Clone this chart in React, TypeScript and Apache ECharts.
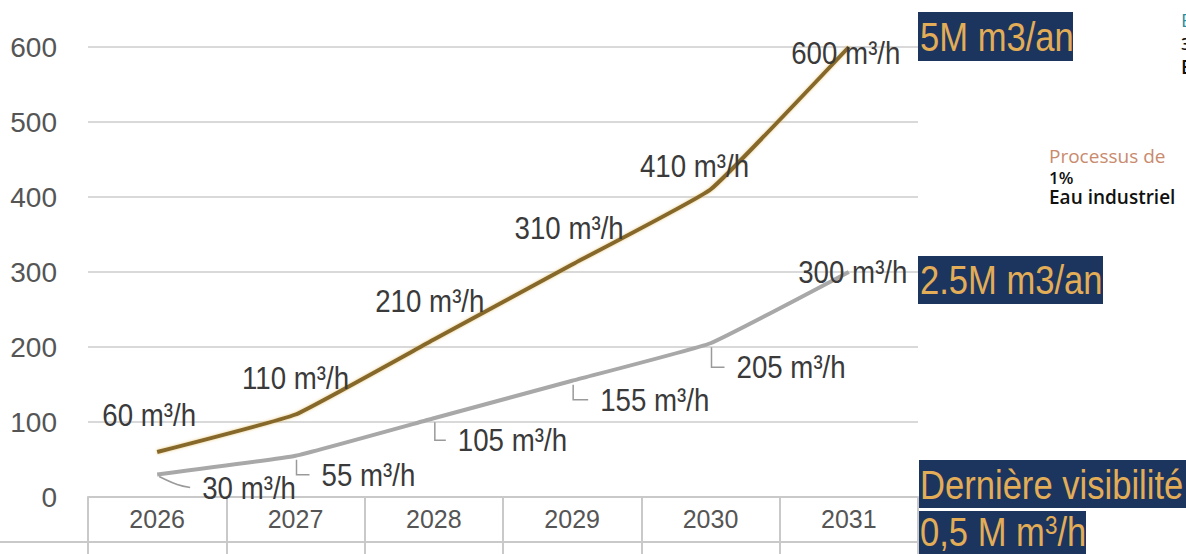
import React, { useEffect, useRef } from "react";
import * as echarts from "echarts";

const years = ["2026", "2027", "2028", "2029", "2030", "2031"];
const capacityHigh = [60, 110, 210, 310, 410, 600];
const capacityLow = [30, 55, 105, 155, 205, 300];
const yTicks = { min: 0, max: 600, interval: 100 };
const unit = " m³/h";
const sideBoxes = ["5M m3/an", "2.5M m3/an", "Dernière visibilité"];
const sideNote = ["Processus de", "1%", "Eau industriel"];
const cornerNote = ["E", "3", "E"];

// label offsets (pixels) relative to each point — styling only
const highLabelOffsets = [[-8, -37], [0, -37], [-4, -39], [-3, -37], [-16, -24], [-3, 6]];
const lowLabelOffsets = [[45, 13], [26, 19], [24, 22], [28, 19], [26, 24], [4, 0]];

const FONT = '"Liberation Sans", Arial, sans-serif';
const SQ = 0.865;
const NAVY = "#1c355e";
const GOLD = "#e3ad57";

export default function App() {
  const ref = useRef<HTMLDivElement>(null);
  useEffect(() => {
    document.body.style.margin = "0";
    const chart = echarts.init(ref.current!, null, { renderer: "svg" });

    const highData = capacityHigh.map((v, i) => [i, v]);
    const lowData = capacityLow.map((v, i) => [i, v]);

    const note = (text: string, x: number, y: number, fill: string, font: string, size: number) => ({
      type: "text", x, y,
      style: { text, fill, font, lineHeight: size, textAlign: "left", textVerticalAlign: "middle" },
    });

    const option: any = {
      animation: false,
      backgroundColor: "#ffffff",
      grid: { left: 88, top: 47, width: 830, height: 450, containLabel: false },
      xAxis: {
        type: "category",
        data: years,
        boundaryGap: true,
        axisLine: { show: true, lineStyle: { color: "#c9c9c9", width: 2 } },
        axisTick: { show: true, interval: 0, length: 57, lineStyle: { color: "#c9c9c9", width: 2 } },
        axisLabel: { color: "#555555", fontSize: 25, fontFamily: FONT, margin: 9, interval: 0 },
        splitLine: { show: false },
      },
      yAxis: {
        type: "value",
        min: yTicks.min,
        max: yTicks.max,
        interval: yTicks.interval,
        axisLine: { show: false },
        axisTick: { show: false },
        axisLabel: { color: "#555555", fontSize: 28, fontFamily: FONT, margin: 31 },
        splitLine: { lineStyle: { color: "#d9d9d9", width: 2 } },
      },
      series: [
        {
          type: "line",
          data: capacityLow,
          showSymbol: false,
          smooth: 0.1,
          lineStyle: { color: "#a8a8a8", width: 4 },
          z: 2,
        },
        {
          type: "line",
          data: capacityHigh,
          showSymbol: false,
          smooth: 0.1,
          lineStyle: {
            color: "#86672b",
            width: 4,
            shadowColor: "rgba(225,190,100,0.8)",
            shadowBlur: 3,
          },
          z: 3,
        },
        {
          type: "custom",
          data: highData,
          clip: false,
          z: 5,
          renderItem: (params: any, api: any) => {
            const i = params.dataIndex;
            const p = api.coord([api.value(0), api.value(1)]);
            const [dx, dy] = highLabelOffsets[i];
            return {
              type: "text",
              x: p[0] + dx,
              y: p[1] + dy,
              scaleX: SQ,
              style: {
                text: capacityHigh[i] + unit,
                fill: "#3a3a3a",
                font: `32px ${FONT}`,
                textAlign: "center",
                textVerticalAlign: "middle",
              },
            };
          },
        },
        {
          type: "custom",
          data: lowData,
          clip: false,
          z: 5,
          renderItem: (params: any, api: any) => {
            const i = params.dataIndex;
            const p = api.coord([api.value(0), api.value(1)]);
            const [dx, dy] = lowLabelOffsets[i];
            const last = i === capacityLow.length - 1;
            const children: any[] = [];
            if (i === 0) {
              children.push({
                type: "polyline",
                shape: {
                  points: [[p[0] + 2, p[1] + 2], [p[0] + 20, p[1] + 10], [p[0] + dx - 12, p[1] + dy]],
                  smooth: 0.4,
                },
                style: { stroke: "#9a9a9a", lineWidth: 1.5, fill: "none" },
              });
            } else if (!last) {
              children.push({
                type: "polyline",
                shape: {
                  points: [[p[0] + 1, p[1] + 4], [p[0] + 1, p[1] + dy], [p[0] + dx - 12, p[1] + dy]],
                },
                style: { stroke: "#9a9a9a", lineWidth: 1.5, fill: "none" },
              });
            }
            children.push({
              type: "text",
              x: p[0] + dx,
              y: p[1] + dy,
              scaleX: SQ,
              style: {
                text: capacityLow[i] + unit,
                fill: "#3a3a3a",
                font: `32px ${FONT}`,
                textAlign: last ? "center" : "left",
                textVerticalAlign: "middle",
              },
            });
            return { type: "group", children };
          },
        },
      ],
      graphic: [
        {
          type: "line",
          shape: { x1: 0, y1: 542, x2: 918, y2: 542 },
          style: { stroke: "#c9c9c9", lineWidth: 2 },
        },
        { type: "rect", shape: { x: 918, y: 12, width: 155, height: 49 }, style: { fill: NAVY } },
        {
          type: "text", x: 920, y: 37, scaleX: SQ,
          style: { text: sideBoxes[0], fill: GOLD, font: `40px ${FONT}`, textAlign: "left", textVerticalAlign: "middle" },
        },
        { type: "rect", shape: { x: 918, y: 256, width: 185, height: 48 }, style: { fill: NAVY } },
        {
          type: "text", x: 920, y: 280, scaleX: SQ,
          style: { text: sideBoxes[1], fill: GOLD, font: `40px ${FONT}`, textAlign: "left", textVerticalAlign: "middle" },
        },
        { type: "rect", shape: { x: 919, y: 460, width: 267, height: 48 }, style: { fill: NAVY } },
        {
          type: "text", x: 920, y: 485, scaleX: SQ,
          style: { text: sideBoxes[2], fill: GOLD, font: `40px ${FONT}`, textAlign: "left", textVerticalAlign: "middle" },
        },
        { type: "rect", shape: { x: 919, y: 511, width: 167, height: 43 }, style: { fill: NAVY } },
        {
          type: "text", x: 920, y: 532, scaleX: SQ,
          style: {
            text: "{a|0,5 M m}{s|3}{a|/h}",
            fill: GOLD,
            textAlign: "left",
            textVerticalAlign: "middle",
            rich: {
              a: { fontSize: 40, fontFamily: FONT, fill: GOLD, lineHeight: 40, verticalAlign: "bottom" },
              s: { fontSize: 26, fontFamily: FONT, fill: GOLD, lineHeight: 26, verticalAlign: "top" },
            },
          },
        },
        note(sideNote[0], 1049, 156, "#c98a6e", `19px "Open Sans", sans-serif`, 19),
        note(sideNote[1], 1049, 177, "#111111", `600 17px "Open Sans", sans-serif`, 17),
        note(sideNote[2], 1049, 197, "#111111", `600 19px "Open Sans", sans-serif`, 19),
        note(cornerNote[0], 1181, 20, "#2a8fa0", `19px "Open Sans", sans-serif`, 19),
        note(cornerNote[1], 1181, 43, "#111111", `600 17px "Open Sans", sans-serif`, 17),
        note(cornerNote[2], 1181, 67, "#111111", `600 19px "Open Sans", sans-serif`, 19),
      ],
    };
    chart.setOption(option);
    return () => chart.dispose();
  }, []);
  return <div ref={ref} style={{ width: 1186, height: 554 }} />;
}
